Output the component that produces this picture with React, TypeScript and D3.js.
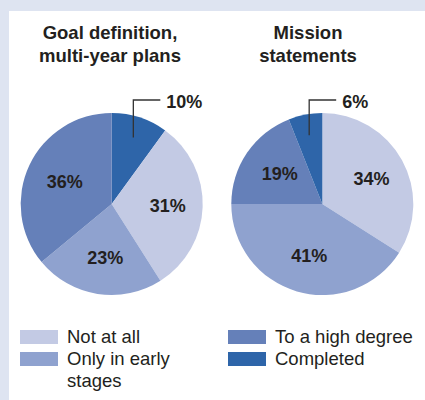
import React from "react";
import * as d3 from "d3";

const categories = ["Not at all", "Only in early stages", "To a high degree", "Completed"];
const colors = ["#c3cae4", "#8fa2cf", "#6580b9", "#2e65a9"];

const titles = [["Goal definition,", "multi-year plans"], ["Mission", "statements"]];
const goalValues = [31, 23, 36, 10];
const missionValues = [34, 41, 19, 6];
// drawing order (clockwise from 12 o'clock) of category indices
const goalOrder = [3, 0, 1, 2];
const missionOrder = [0, 1, 2, 3];

const legendLeft = [["Not at all"], ["Only in early", "stages"]];
const legendRight = [["To a high degree"], ["Completed"]];

const W = 425;
const H = 400;
const R = 91;
const FONT = "'Liberation Sans', Arial, Helvetica, sans-serif";
const TEXT = "#231f20";

type PieProps = { cx: number; cy: number; values: number[]; order: number[]; title: string[]; titleX: number };

function Pie({ cx, cy, values, order, title, titleX }: PieProps) {
  const data = order.map((i) => ({ i, v: values[i] }));
  const pie = d3.pie<{ i: number; v: number }>().sort(null).value((d) => d.v);
  const arcs = pie(data);
  const arc = d3.arc<d3.PieArcDatum<{ i: number; v: number }>>().innerRadius(0).outerRadius(R);
  const labelArc = d3.arc<d3.PieArcDatum<{ i: number; v: number }>>().innerRadius(108).outerRadius(0);
  const leaderR = 70;
  return (
    <g>
      <text x={titleX} y={39} textAnchor="middle" fontFamily={FONT} fontWeight="bold" fontSize={18.5} fill={TEXT}>
        {title.map((t, k) => (
          <tspan key={k} x={titleX} dy={k === 0 ? 0 : 23}>
            {t}
          </tspan>
        ))}
      </text>
      <g transform={`translate(${cx},${cy})`}>
        {arcs.map((a) => (
          <path key={a.data.i} d={arc(a) || ""} fill={colors[a.data.i]} />
        ))}
        {arcs.map((a) => {
          const mid = (a.startAngle + a.endAngle) / 2;
          const label = `${a.data.v}%`;
          if (a.data.v < 12) {
            const x0 = Math.sin(mid) * leaderR;
            const y0 = -Math.cos(mid) * leaderR;
            const yTop = -R - 13;
            const x1 = x0 + 27;
            return (
              <g key={"l" + a.data.i}>
                <path d={`M${x0},${y0}V${yTop}H${x1}`} fill="none" stroke="#333" strokeWidth={1.3} />
                <text x={x1 + 6} y={yTop + 7.5} fontFamily={FONT} fontWeight="bold" fontSize={18} fill={TEXT}>
                  {label}
                </text>
              </g>
            );
          }
          const [lx, ly] = labelArc.centroid(a);
          return (
            <text key={"l" + a.data.i} x={lx + 2} y={ly + 6.5} textAnchor="middle" fontFamily={FONT} fontWeight="bold" fontSize={18} fill={TEXT}>
              {label}
            </text>
          );
        })}
      </g>
    </g>
  );
}

function Legend({ x, items, catStart }: { x: number; items: string[][]; catStart: number }) {
  return (
    <g>
      {items.map((lines, k) => {
        const y = 330 + k * 22;
        return (
          <g key={k}>
            <rect x={x} y={y} width={38} height={14} fill={colors[catStart + k]} />
            <text x={x + 47} y={y + 13.3} fontFamily={FONT} fontSize={18.5} fill={TEXT}>
              {lines.map((t, j) => (
                <tspan key={j} x={x + 47} dy={j === 0 ? 0 : 21.5}>
                  {t}
                </tspan>
              ))}
            </text>
          </g>
        );
      })}
    </g>
  );
}

export default function App() {
  return (
    <svg
      width={W}
      height={H}
      viewBox={`0 0 ${W} ${H}`}
      style={{ position: "absolute", left: 0, top: 0, display: "block" }}
    >
      <title>{categories.join(", ")}</title>
      <rect x={0} y={0} width={W} height={H} fill="#dee4f1" />
      <rect x={9} y={11} width={W - 9} height={H - 11} fill="#ffffff" />
      <Pie cx={111.7} cy={204} values={goalValues} order={goalOrder} title={titles[0]} titleX={110} />
      <Pie cx={322.3} cy={204} values={missionValues} order={missionOrder} title={titles[1]} titleX={308} />
      <Legend x={20} items={legendLeft} catStart={0} />
      <Legend x={228} items={legendRight} catStart={2} />
    </svg>
  );
}
